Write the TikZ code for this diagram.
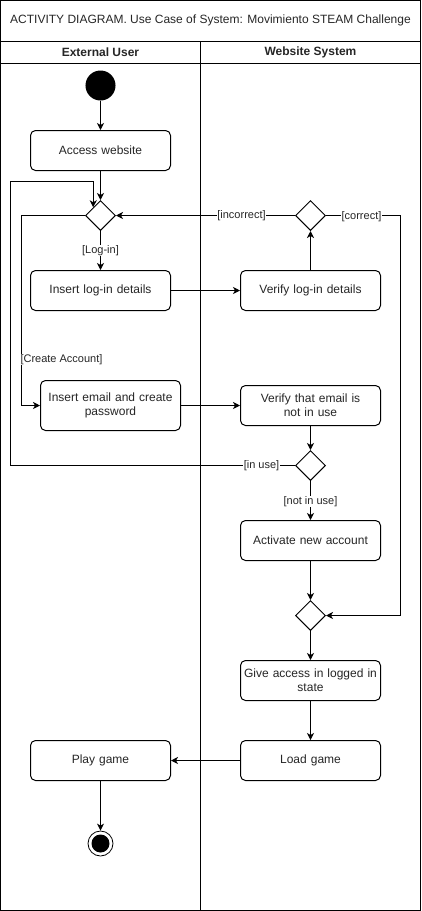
\documentclass[tikz,border=0pt]{standalone}
\usepackage{fontspec}
\setmainfont{Liberation Sans}
\usetikzlibrary{shapes.geometric,arrows.meta,calc}
\begin{document}
\begin{tikzpicture}[x=1pt,y=-1pt,line width=1pt,
  every node/.style={font=\fontsize{12}{14}\selectfont, text=black!85},
  actbox/.style={draw=black, rounded corners=5pt, minimum width=140pt, minimum height=40pt, text width=134pt, align=center, inner sep=0pt, fill=white},
  dec/.style={draw=black, diamond, minimum width=30pt, minimum height=30pt, inner sep=0pt, fill=white},
  arr/.style={-{Stealth[length=7pt,width=7pt,inset=2pt]}},
  lbl/.style={fill=white, inner sep=0.5pt, font=\fontsize{11}{13}\selectfont},
  hdr/.style={font=\bfseries\fontsize{12}{14}\selectfont}]
\useasboundingbox (-0.5,-0.5) rectangle (420.5,910.5);
% frame
\draw (0,0) rectangle (420,910);
\draw (0,41) -- (420,41);
\draw (0,63) -- (420,63);
\draw (200,41) -- (200,910);
\node (title) at (210,20) {ACTIVITY DIAGRAM. Use Case of System: Movimiento STEAM Challenge};
\node[hdr] (h1) at (100,52) {External User};
\node[hdr] (h2) at (310,52) {Website System};
% nodes
\node[circle, fill=black, draw=black, minimum size=29pt, inner sep=0pt] (start) at (100,85) {};
\node[actbox] (access) at (100,150) {Access website};
\node[dec] (d1) at (100,215) {};
\node[dec] (d2) at (310,215) {};
\node[actbox] (inslog) at (100,290) {Insert log-in details};
\node[actbox] (verlog) at (310,290) {Verify log-in details};
\node[actbox, minimum height=50pt] (insem) at (110,405) {Insert email and create\\password};
\node[actbox] (verem) at (310,405) {Verify that email is\\not in use};
\node[dec] (d4) at (310,465) {};
\node[actbox] (activ) at (310,540) {Activate new account};
\node[dec] (d3) at (310,615) {};
\node[actbox] (give) at (310,680) {Give access in logged in\\state};
\node[actbox] (load) at (310,760) {Load game};
\node[actbox] (play) at (100,760) {Play game};
\node[circle, draw=black, line width=0.8pt, fill=white, minimum size=25pt, inner sep=0pt] (end) at (100,843) {};
\node[circle, fill=black, minimum size=18pt, inner sep=0pt] (endin) at (100,843) {};
% connectors
\draw[arr] (start) -- (access);
\draw[arr] (access) -- (d1);
\draw[arr] (d1) -- node[lbl, pos=0.5] {[Log-in]} (inslog);
\draw[arr] (inslog) -- (verlog);
\draw[arr] (verlog) -- (d2);
\draw[arr] (d2) -- (d1);
\node[lbl] (incorr) at (241,215) {[incorrect]};
\coordinate (d1in) at ($(d1.north)!0.47!(d1.west)$);
\draw[arr] (d4.west) -| (10,181) -| (d1in);
\node[lbl] (inuse) at (261,465) {[in use]};
\draw[arr] (d1.west) -| (21,405) -- (insem.west);
\node[lbl] (createacc) at (61,359) {[Create Account]};
\draw[arr] (insem) -- (verem);
\draw[arr] (verem) -- (d4);
\draw[arr] (d4) -- node[lbl, pos=0.52] {[not in use]} (activ);
\draw[arr] (activ) -- (d3);
\draw[arr] (d2.east) -- (400,215) |- (d3.east);
\node[lbl] (corr) at (361,216) {[correct]};
\draw[arr] (d3) -- (give);
\draw[arr] (give) -- (load);
\draw[arr] (load) -- (play);
\draw[arr] (play) -- (end);
\end{tikzpicture}
\end{document}
